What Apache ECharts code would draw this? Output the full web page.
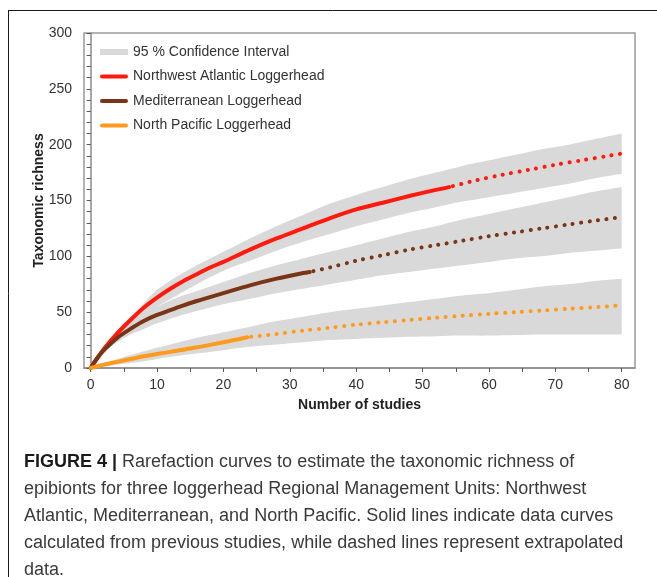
<!DOCTYPE html>
<html>
<head>
<meta charset="utf-8">
<script src="https://cdn.jsdelivr.net/npm/echarts@6/dist/echarts.min.js"></script>
<style>
  html, body { margin: 0; padding: 0; background: #ffffff; }
  #chart { width: 657px; height: 577px; }
</style>
</head>
<body>
<div id="chart"></div>
<script>
// Rarefaction / extrapolation of epibiont taxonomic richness, points are [number of studies, richness]
const nwaObserved = [[0,0],[2,17],[4,31],[6,43],[8,54],[10,63],[12,71],[14,78],[16,84],[18,90],[20,95],[24,106],[28,116],[32,125],[36,134],[40,142],[44,148],[48,154],[52,159.5],[54,162]];
const nwaExtrapolated = [[54,162],[58,168],[62,173],[66,177.5],[70,182],[74,186],[78,190],[80,192]];
const medObserved = [[0,0],[1,9],[2,16],[4,27],[6,35],[8,42],[10,47.5],[13,54],[16,60],[20,67],[24,74],[28,80],[32,85],[33,86]];
const medExtrapolated = [[33,86],[36,90],[40,96],[44,101],[48,106],[52,110],[56,114],[60,118],[64,121.5],[68,125],[72,128.5],[76,132],[80,135]];
const npObserved = [[0,0],[2,3],[4,5.5],[6,8],[8,10.5],[10,12.5],[13,15.5],[16,18.5],[20,23],[23.6,27.5]];
const npExtrapolated = [[23.6,27.5],[28,30.5],[32,33.5],[36,36],[40,38.8],[44,41],[48,43],[52,45],[56,46.8],[60,48.5],[64,50],[68,51.5],[72,53],[76,54.5],[80,56]];

// 95 % confidence intervals: [number of studies, lower, upper]
const nwaBand = [[0,0,0],[2,14,18],[4,26,32],[6,37,45],[8,47,58],[10,55,70],[13,65,82],[16,75,92],[20,87,104],[24,96,116],[28,105,127],[32,113,137],[36,120,147],[40,127,155],[44,133,162],[48,139,169],[52,144,175],[56,149,181],[60,153,186],[64,157,191],[68,161,196],[72,165,200],[76,170,205],[80,174,210]];
const medBand = [[0,0,0],[2,14,18],[4,23,31],[6,30,40],[8,35,48],[10,40,55],[13,46,63],[16,51,69],[20,57,77],[24,62,85],[28,67,92],[32,71,98],[36,75,104],[40,79,110],[44,83,116],[48,86,122],[52,89,127],[56,92,133],[60,95,138],[64,98,143],[68,100,148],[72,103,153],[76,105,158],[80,107,162]];
const npBand = [[0,0,0],[4,3,8],[8,6,15],[12,10,21],[16,13,27],[20,16,32],[24,19,37],[28,21,42],[32,23,46],[36,25,50],[40,26,53],[44,27,56],[48,28,59],[52,28.5,62],[56,29,65],[60,29,67],[64,29.5,70],[68,30,73],[72,30,75],[76,30,78],[80,30,80]];

// Axis ticks and labels
const xTickValues = [0,5,10,15,20,25,30,35,40,45,50,55,60,65,70,75,80];
const xLabelValues = [0,10,20,30,40,50,60,70,80];

const legendNames = ['95 % Confidence Interval', 'Northwest Atlantic Loggerhead', 'Mediterranean Loggerhead', 'North Pacific Loggerhead'];

const captionLines = [
  '{b|FIGURE 4 |} Rarefaction curves to estimate the taxonomic richness of',
  'epibionts for three loggerhead Regional Management Units: Northwest',
  'Atlantic, Mediterranean, and North Pacific. Solid lines indicate data curves',
  'calculated from previous studies, while dashed lines represent extrapolated',
  'data.'
];

const FONT = "'Liberation Sans', Arial, Helvetica, sans-serif";
const BAND_COLOR = '#d9d9d9';
const RED = '#ff1a0d';
const BROWN = '#7a3416';
const ORANGE = '#ff9a1c';

// Legend glyphs: a flat grey swatch and a thick round-ended bar
const SWATCH_ICON = 'path://M0,0M0,8M0,1H28V7H0Z';
const BAR_ICON = 'path://M0,0M0,8M2,2H26A2,2,0,0,1,26,6H2A2,2,0,0,1,2,2Z';

// Confidence band drawn as one smoothed polygon (upper edge, then lower edge back)
function bandSeries(rows) {
  return {
    type: 'custom',
    name: legendNames[0],
    data: rows,
    encode: { x: 0, y: [1, 2] },
    itemStyle: { color: BAND_COLOR },
    silent: true,
    z: 1,
    renderItem: function (params, api) {
      if (params.dataIndex !== 0) return null;
      const upper = rows.map(function (r) { return api.coord([r[0], r[2]]); });
      const lower = rows.map(function (r) { return api.coord([r[0], r[1]]); }).reverse();
      // repeat the end vertices so the smoothing keeps the corners sharp
      const pts = [upper[0]].concat(upper, [upper[upper.length - 1]], [lower[0]], lower, [lower[lower.length - 1]]);
      return {
        type: 'polygon',
        shape: { points: pts, smooth: 0.35 },
        style: { fill: BAND_COLOR }
      };
    }
  };
}

function curveSeries(name, data, color, dotted) {
  return {
    type: 'line',
    name: name,
    data: data,
    smooth: 0.3,
    symbol: 'none',
    silent: true,
    z: 3,
    itemStyle: { color: color },
    lineStyle: dotted
      ? { color: color, width: 4, type: [0.1, 8.4], cap: 'round', dashOffset: -4 }
      : { color: color, width: 4, cap: 'round' }
  };
}

const chart = echarts.init(document.getElementById('chart'), null, { renderer: 'canvas' });

chart.setOption({
  animation: false,
  backgroundColor: '#ffffff',
  textStyle: { fontFamily: FONT },
  grid: {
    left: 84, right: 22, top: 33, bottom: 209,
    show: true, borderColor: '#9a9a9a', borderWidth: 1.5, backgroundColor: 'transparent'
  },
  legend: {
    data: [
      { name: legendNames[0], icon: SWATCH_ICON, itemStyle: { color: BAND_COLOR, borderWidth: 0 } },
      { name: legendNames[1], icon: BAR_ICON, itemStyle: { color: RED, borderWidth: 0 } },
      { name: legendNames[2], icon: BAR_ICON, itemStyle: { color: BROWN, borderWidth: 0 } },
      { name: legendNames[3], icon: BAR_ICON, itemStyle: { color: ORANGE, borderWidth: 0 } }
    ],
    orient: 'vertical',
    left: 100,
    top: 45,
    padding: 0,
    itemWidth: 28,
    itemHeight: 8,
    itemGap: 10.5,
    selectedMode: false,
    textStyle: { fontSize: 14, color: '#333333', fontFamily: FONT }
  },
  xAxis: {
    type: 'value',
    min: -1,
    max: 82,
    name: 'Number of studies',
    nameLocation: 'middle',
    nameGap: 30,
    nameMoveOverlap: false,
    nameTextStyle: { fontWeight: 'bold', fontSize: 14, color: '#222222', fontFamily: FONT },
    axisLine: { lineStyle: { color: '#8a8a8a', width: 1.5 } },
    axisTick: { customValues: xTickValues, length: 4, lineStyle: { color: '#555555' } },
    axisLabel: { customValues: xLabelValues, fontSize: 14, color: '#333333', margin: 10, fontFamily: FONT },
    splitLine: { show: false }
  },
  yAxis: {
    type: 'value',
    min: 0,
    max: 300,
    interval: 50,
    name: 'Taxonomic richness',
    nameLocation: 'middle',
    nameGap: 38,
    nameMoveOverlap: false,
    nameTextStyle: { fontWeight: 'bold', fontSize: 14, color: '#222222', fontFamily: FONT },
    axisLine: { show: true, lineStyle: { color: '#8a8a8a', width: 1.5 } },
    axisTick: { show: true, length: 4, lineStyle: { color: '#555555' } },
    minorTick: { show: true, splitNumber: 5, length: 4, lineStyle: { color: '#555555' } },
    axisLabel: { fontSize: 14, color: '#333333', margin: 12, fontFamily: FONT },
    splitLine: { show: false }
  },
  series: [
    bandSeries(nwaBand),
    bandSeries(medBand),
    bandSeries(npBand),
    curveSeries(legendNames[1], nwaObserved, RED, false),
    curveSeries('Northwest Atlantic (extrapolated)', nwaExtrapolated, RED, true),
    curveSeries(legendNames[2], medObserved, BROWN, false),
    curveSeries('Mediterranean (extrapolated)', medExtrapolated, BROWN, true),
    curveSeries(legendNames[3], npObserved, ORANGE, false),
    curveSeries('North Pacific (extrapolated)', npExtrapolated, ORANGE, true)
  ],
  graphic: [
    { type: 'line', shape: { x1: 8, y1: 10.5, x2: 657, y2: 10.5 }, style: { stroke: '#1a1a1a', lineWidth: 1 }, silent: true },
    { type: 'line', shape: { x1: 8.5, y1: 10, x2: 8.5, y2: 577 }, style: { stroke: '#1a1a1a', lineWidth: 1 }, silent: true },
    {
      type: 'text',
      left: 24,
      top: 449,
      silent: true,
      style: {
        text: captionLines.join('\n'),
        font: '18px ' + FONT,
        fill: '#3a3a3a',
        lineHeight: 26.8,
        rich: {
          b: { fontWeight: 'bold', fontSize: 18, fontFamily: FONT, fill: '#1a1a1a', lineHeight: 26.8 }
        }
      }
    }
  ]
});
</script>
</body>
</html>
